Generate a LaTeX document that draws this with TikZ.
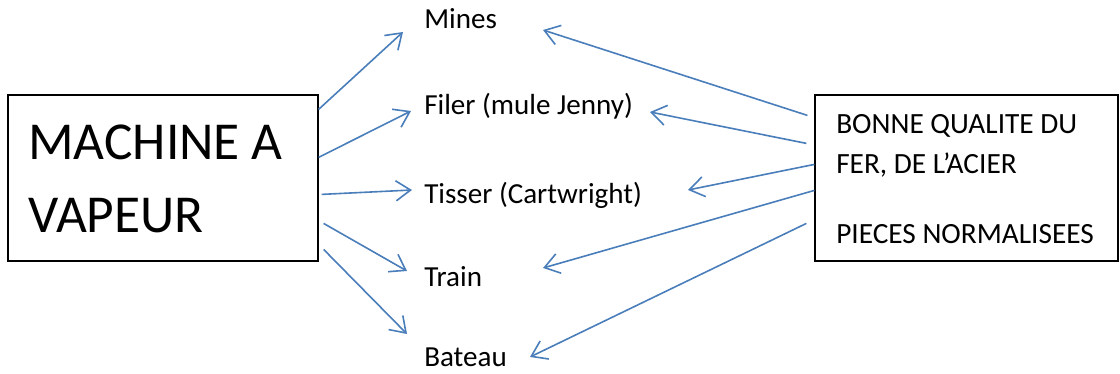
\documentclass[tikz,border=0pt]{standalone}
\usepackage{fontspec}
\setmainfont{Carlito}
\usepackage{tikz}
\usetikzlibrary{calc,arrows.meta,positioning}
\definecolor{linkB}{HTML}{4A7EBB}

\begin{document}
\begin{tikzpicture}[x=0.75pt,y=-0.75pt,
    box/.style={draw, line width=0.9pt, minimum width=#1, minimum height=124.5pt, inner sep=0pt},
    lbl/.style={anchor=base west, inner sep=0pt, font=\fontsize{21.8}{26}\selectfont},
    big/.style={anchor=base west, inner sep=0pt, font=\fontsize{40}{48}\selectfont},
    link/.style={linkB, line width=1.2pt, -{Straight Barb[length=11pt,width=15pt,line width=1.2pt]}}]
        \useasboundingbox (0,0) rectangle (1120,374);
        % Two boxes
        \node[box=232.5pt] (mach) at (163,178) {};
        \node[box=227.25pt] (qual) at (966.5,178) {};
        % Box texts
        \node[big] (machA) at (28,160) {MACHINE A};
        \node[big] (machB) at (28,232) {VAPEUR};
        \node[lbl, font=\fontsize{22}{26}\selectfont] (qualA) at (836,134) {BONNE QUALITE DU};
        \node[lbl, font=\fontsize{22}{26}\selectfont] (qualB) at (836,174) {FER, DE L’ACIER};
        \node[lbl, font=\fontsize{22}{26}\selectfont] (qualC) at (836,243) {PIECES NORMALISEES};
        % Uses in the middle
        \node[lbl] (mines) at (424,29) {Mines};
        \node[lbl] (filer) at (424,115) {Filer (mule Jenny)};
        \node[lbl] (tisser) at (424,203) {Tisser (Cartwright)};
        \node[lbl] (train) at (424,286) {Train};
        \node[lbl] (bateau) at (424,366) {Bateau};
        % Arrows out of the steam engine
        \draw[link] ($(mach.north east)+(0,15)$) -- ($(mines.base west)+(-21,3)$);
        \draw[link] ($(mach.north east)+(0,63)$) -- ($(filer.base west)+(-13,-4)$);
        \draw[link] ($(mach.north east)+(3,100)$) -- ($(tisser.base west)+(-12,-13)$);
        \draw[link] ($(mach.north east)+(5,129)$) -- ($(train.base west)+(-17,-15)$);
        \draw[link] ($(mach.north east)+(5,155)$) -- ($(bateau.base west)+(-17,-32)$);
        % Arrows out of the quality box
        \draw[link] ($(qual.north west)+(-7,21)$) -- ($(mines.base west)+(119,1)$);
        \draw[link] ($(qual.north west)+(-8,49)$) -- ($(filer.base west)+(226,-3)$);
        \draw[link] ($(qual.north west)+(0,70)$) -- ($(tisser.base west)+(264,-13)$);
        \draw[link] ($(qual.north west)+(0,96)$) -- ($(train.base west)+(119,-18)$);
        \draw[link] ($(qual.north west)+(-8,129)$) -- ($(bateau.base west)+(106,-9)$);
\end{tikzpicture}
\end{document}
